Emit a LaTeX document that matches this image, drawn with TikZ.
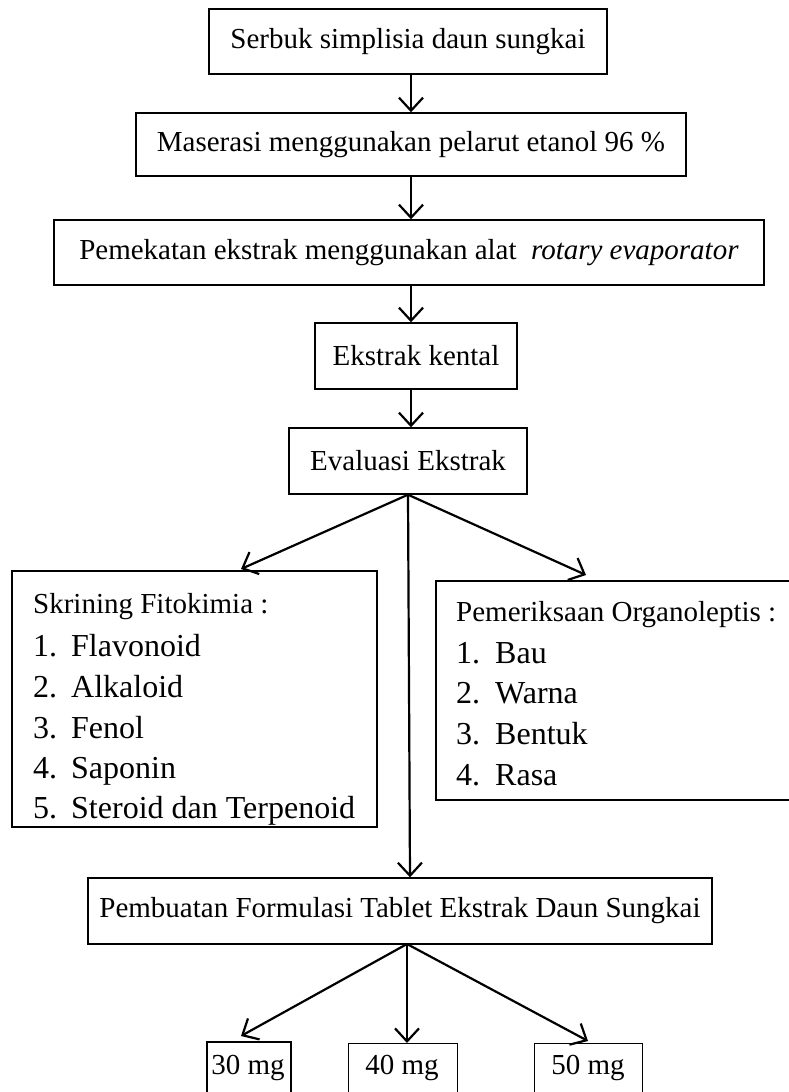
\documentclass[tikz,border=0pt]{standalone}
\usepackage{fontspec}
\setmainfont{Liberation Serif}
\usetikzlibrary{arrows.meta}
\begin{document}
\begin{tikzpicture}[x=1pt,y=-1pt,
  box/.style={draw, line width=1.4pt, inner sep=0pt, font=\fontsize{29}{34}\selectfont},
  conn/.style={line width=2.2pt, -{Straight Barb[length=13pt,width=24pt,line width=2.2pt]}},
  hd/.style={anchor=base west, inner sep=0pt, font=\fontsize{29}{34}\selectfont},
  it/.style={anchor=base west, inner sep=0pt, font=\fontsize{32}{38}\selectfont}]
\useasboundingbox (0,0) rectangle (789,1092);
\clip (0,0) rectangle (789,1092);
% main chain
\node[box, minimum width=398pt, minimum height=65pt] (b1) at (408,41.5) {Serbuk simplisia daun sungkai};
\node[box, minimum width=550pt, minimum height=63pt] (b2) at (411,144.5) {Maserasi menggunakan pelarut etanol 96 \%};
\node[box, minimum width=710pt, minimum height=65pt] (b3) at (409,252.5) {Pemekatan ekstrak menggunakan alat \ \textit{rotary evaporator}};
\node[box, minimum width=202pt, minimum height=66pt] (b4) at (416,356) {Ekstrak kental};
\node[box, minimum width=238pt, minimum height=66pt] (b5) at (408,461) {Evaluasi Ekstrak};
\draw[conn] (b1.south -| 411,0) -- (b2.north -| 411,0);
\draw[conn] (b2.south -| 411,0) -- (b3.north -| 411,0);
\draw[conn] (b3.south -| 411,0) -- (b4.north -| 411,0);
\draw[conn] (b4.south -| 411,0) -- (b5.north -| 411,0);
% left box
\node[draw, line width=1.4pt, minimum width=365pt, minimum height=256pt, inner sep=0pt] (skr) at (194.5,699) {};
\node[hd] (s0) at (33,613) {Skrining Fitokimia :};
\node[it] (s1) at (33,656) {1.};
\node[it] (s1t) at (71,656) {Flavonoid};
\node[it] (s2) at (33,697) {2.};
\node[it] (s2t) at (71,697) {Alkaloid};
\node[it] (s3) at (33,738) {3.};
\node[it] (s3t) at (71,738) {Fenol};
\node[it] (s4) at (33,778) {4.};
\node[it] (s4t) at (71,778) {Saponin};
\node[it] (s5) at (33,818) {5.};
\node[it] (s5t) at (71,818) {Steroid dan Terpenoid};
% right box
\node[draw, line width=1.4pt, minimum width=380pt, minimum height=219pt, inner sep=0pt] (org) at (626,690.5) {};
\node[hd] (o0) at (456,621) {Pemeriksaan Organoleptis :};
\node[it] (o1) at (456,663) {1.};
\node[it] (o1t) at (495,663) {Bau};
\node[it] (o2) at (456,703) {2.};
\node[it] (o2t) at (495,703) {Warna};
\node[it] (o3) at (456,744) {3.};
\node[it] (o3t) at (495,744) {Bentuk};
\node[it] (o4) at (456,785) {4.};
\node[it] (o4t) at (495,785) {Rasa};
% formulation
\node[box, minimum width=624pt, minimum height=66pt] (form) at (400,911) {Pembuatan Formulasi Tablet Ekstrak Daun Sungkai};
\coordinate (ltip) at (241,569);
\coordinate (rtip) at (586,575);
\draw[conn] (b5.south) -- (ltip);
\draw[conn] (b5.south) -- (rtip);
\draw[conn] (b5.south) -- (410,878 |- form.north);
% doses
\node[draw, line width=2.4pt, minimum width=84pt, minimum height=80pt, inner sep=0pt, anchor=north west] (d30) at (206,1041) {};
\node[font=\fontsize{29}{34}\selectfont, inner sep=0pt] (t30) at (248,1068) {30 mg};
\node[draw, line width=1.4pt, minimum width=109pt, minimum height=80pt, inner sep=0pt, anchor=north west] (d40) at (348,1043) {};
\node[font=\fontsize{29}{34}\selectfont, inner sep=0pt] (t40) at (402,1068) {40 mg};
\node[draw, line width=1.4pt, minimum width=108pt, minimum height=80pt, inner sep=0pt, anchor=north west] (d50) at (534,1043) {};
\node[font=\fontsize{29}{34}\selectfont, inner sep=0pt] (t50) at (588,1068) {50 mg};
\coordinate (fa) at (407,944);
\draw[conn] (fa) -- (241,1036);
\draw[conn] (fa) -- (d40.north -| fa);
\draw[conn] (fa) -- (588,1041);
\end{tikzpicture}
\end{document}
